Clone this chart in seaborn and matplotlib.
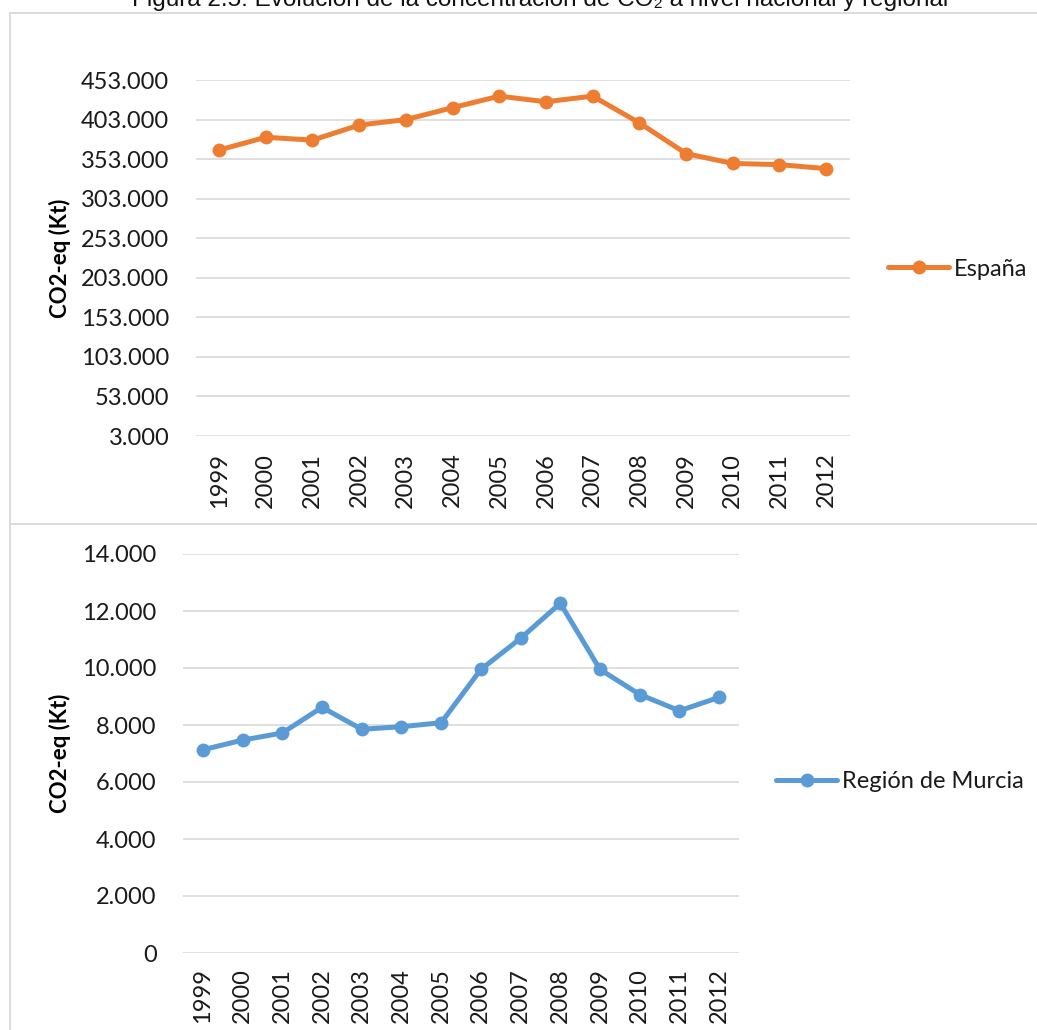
import numpy as np
import pandas as pd
import matplotlib
matplotlib.use("Agg")
import matplotlib.pyplot as plt
from matplotlib.lines import Line2D
from matplotlib.ticker import FuncFormatter
import seaborn as sns

# Data (Kt CO2-eq)
years = [1999, 2000, 2001, 2002, 2003, 2004, 2005, 2006, 2007, 2008, 2009, 2010, 2011, 2012]
espana = [364500, 380600, 377000, 396000, 403000, 418000, 432600, 425500, 432600, 398800,
          360000, 347500, 346000, 341000]
murcia = [7130, 7470, 7720, 8620, 7850, 7940, 8080, 9950, 11040, 12270,
          9950, 9070, 8500, 8970]

title = "Figura 2.5: Evolución de la concentración de CO₂ a nivel nacional y regional"
ylabel = "CO2-eq (Kt)"
top_ticks = list(range(3000, 453001, 50000))
bottom_ticks = list(range(0, 14001, 2000))

ORANGE = "#ED7D31"
BLUE = "#5B9BD5"
GRID = "#D9D9D9"

sns.set_style("white")
plt.rcParams['font.family'] = ['Lato', 'DejaVu Sans']

W, H = 1037, 1030
fig = plt.figure(figsize=(W / 100, H / 100), dpi=100)


def px_axes(x0, x1, y_top, y_bot):
    return fig.add_axes([x0 / W, 1 - y_bot / H, (x1 - x0) / W, (y_bot - y_top) / H])


def thousands(v, pos):
    return f"{int(round(v)):,}".replace(",", ".")


def style_axis(ax, ticks, df, col, color, label, label_x, legend_xy, pad_x):
    sns.lineplot(data=df, x="year", y=col, ax=ax, color=color, linewidth=3.6,
                 marker="o", markersize=10, markeredgewidth=0, label=label)
    ax.set_xlim(years[0] - 0.5, years[-1] + 0.5)
    ax.set_ylim(ticks[0], ticks[-1])
    ax.set_yticks(ticks)
    ax.set_xticks(years)
    ax.set_xticklabels([str(y) for y in years], rotation=90, fontsize=17)
    ax.yaxis.set_major_formatter(FuncFormatter(thousands))
    ax.tick_params(axis="y", length=0, pad=19, labelsize=17, labelcolor="#1a1a1a")
    ax.tick_params(axis="x", length=0, pad=pad_x, labelcolor="#1a1a1a")
    ax.grid(axis="y", color=GRID, linewidth=1.2)
    ax.set_axisbelow(True)
    for s in ax.spines.values():
        s.set_visible(False)
    ax.set_xlabel("")
    ax.set_ylabel(ylabel, fontsize=16, fontweight="bold", va="center", color="#000000")
    ax.yaxis.set_label_coords(label_x, 0.5)
    leg = ax.legend(loc="center left", bbox_to_anchor=(legend_xy[0] / W, 1 - legend_xy[1] / H),
                    bbox_transform=fig.transFigure, frameon=False, fontsize=17,
                    handlelength=2.6, handletextpad=0.2, borderaxespad=0, borderpad=0)
    for t in leg.get_texts():
        t.set_color("#1a1a1a")
    return leg


df = pd.DataFrame({"year": years, "espana": espana, "murcia": murcia})

# top chart: España
ax1 = px_axes(195.7, 849.5, 80, 436)
style_axis(ax1, top_ticks, df, "espana", ORANGE, "España",
           (60 - 195.7) / (849.5 - 195.7), (888, 269), 12)

# bottom chart: Región de Murcia
ax2 = px_axes(183, 739, 554, 953)
style_axis(ax2, bottom_ticks, df, "murcia", BLUE, "Región de Murcia",
           (60 - 183) / (739 - 183), (776, 782), 11)

# chart frames
frame_kw = dict(color=GRID, linewidth=1.3, transform=fig.transFigure)
fig.add_artist(Line2D([9.5 / W, 9.5 / W], [1 - 13 / H, 1 - 524 / H], **frame_kw))
fig.add_artist(Line2D([9.5 / W, 1.01], [1 - 13 / H, 1 - 13 / H], **frame_kw))
fig.add_artist(Line2D([9.5 / W, 1.01], [1 - 524 / H, 1 - 524 / H], **frame_kw))
fig.add_artist(Line2D([9.5 / W, 9.5 / W], [1 - 524 / H, -0.01], **frame_kw))

# title, cut at the top edge
fig.text(540 / W, 1 - 6 / H, title, ha="center", va="baseline", fontsize=17.5,
         family=["Liberation Sans", "DejaVu Sans"], color="#111111")

fig.savefig("out.png", dpi=100)
